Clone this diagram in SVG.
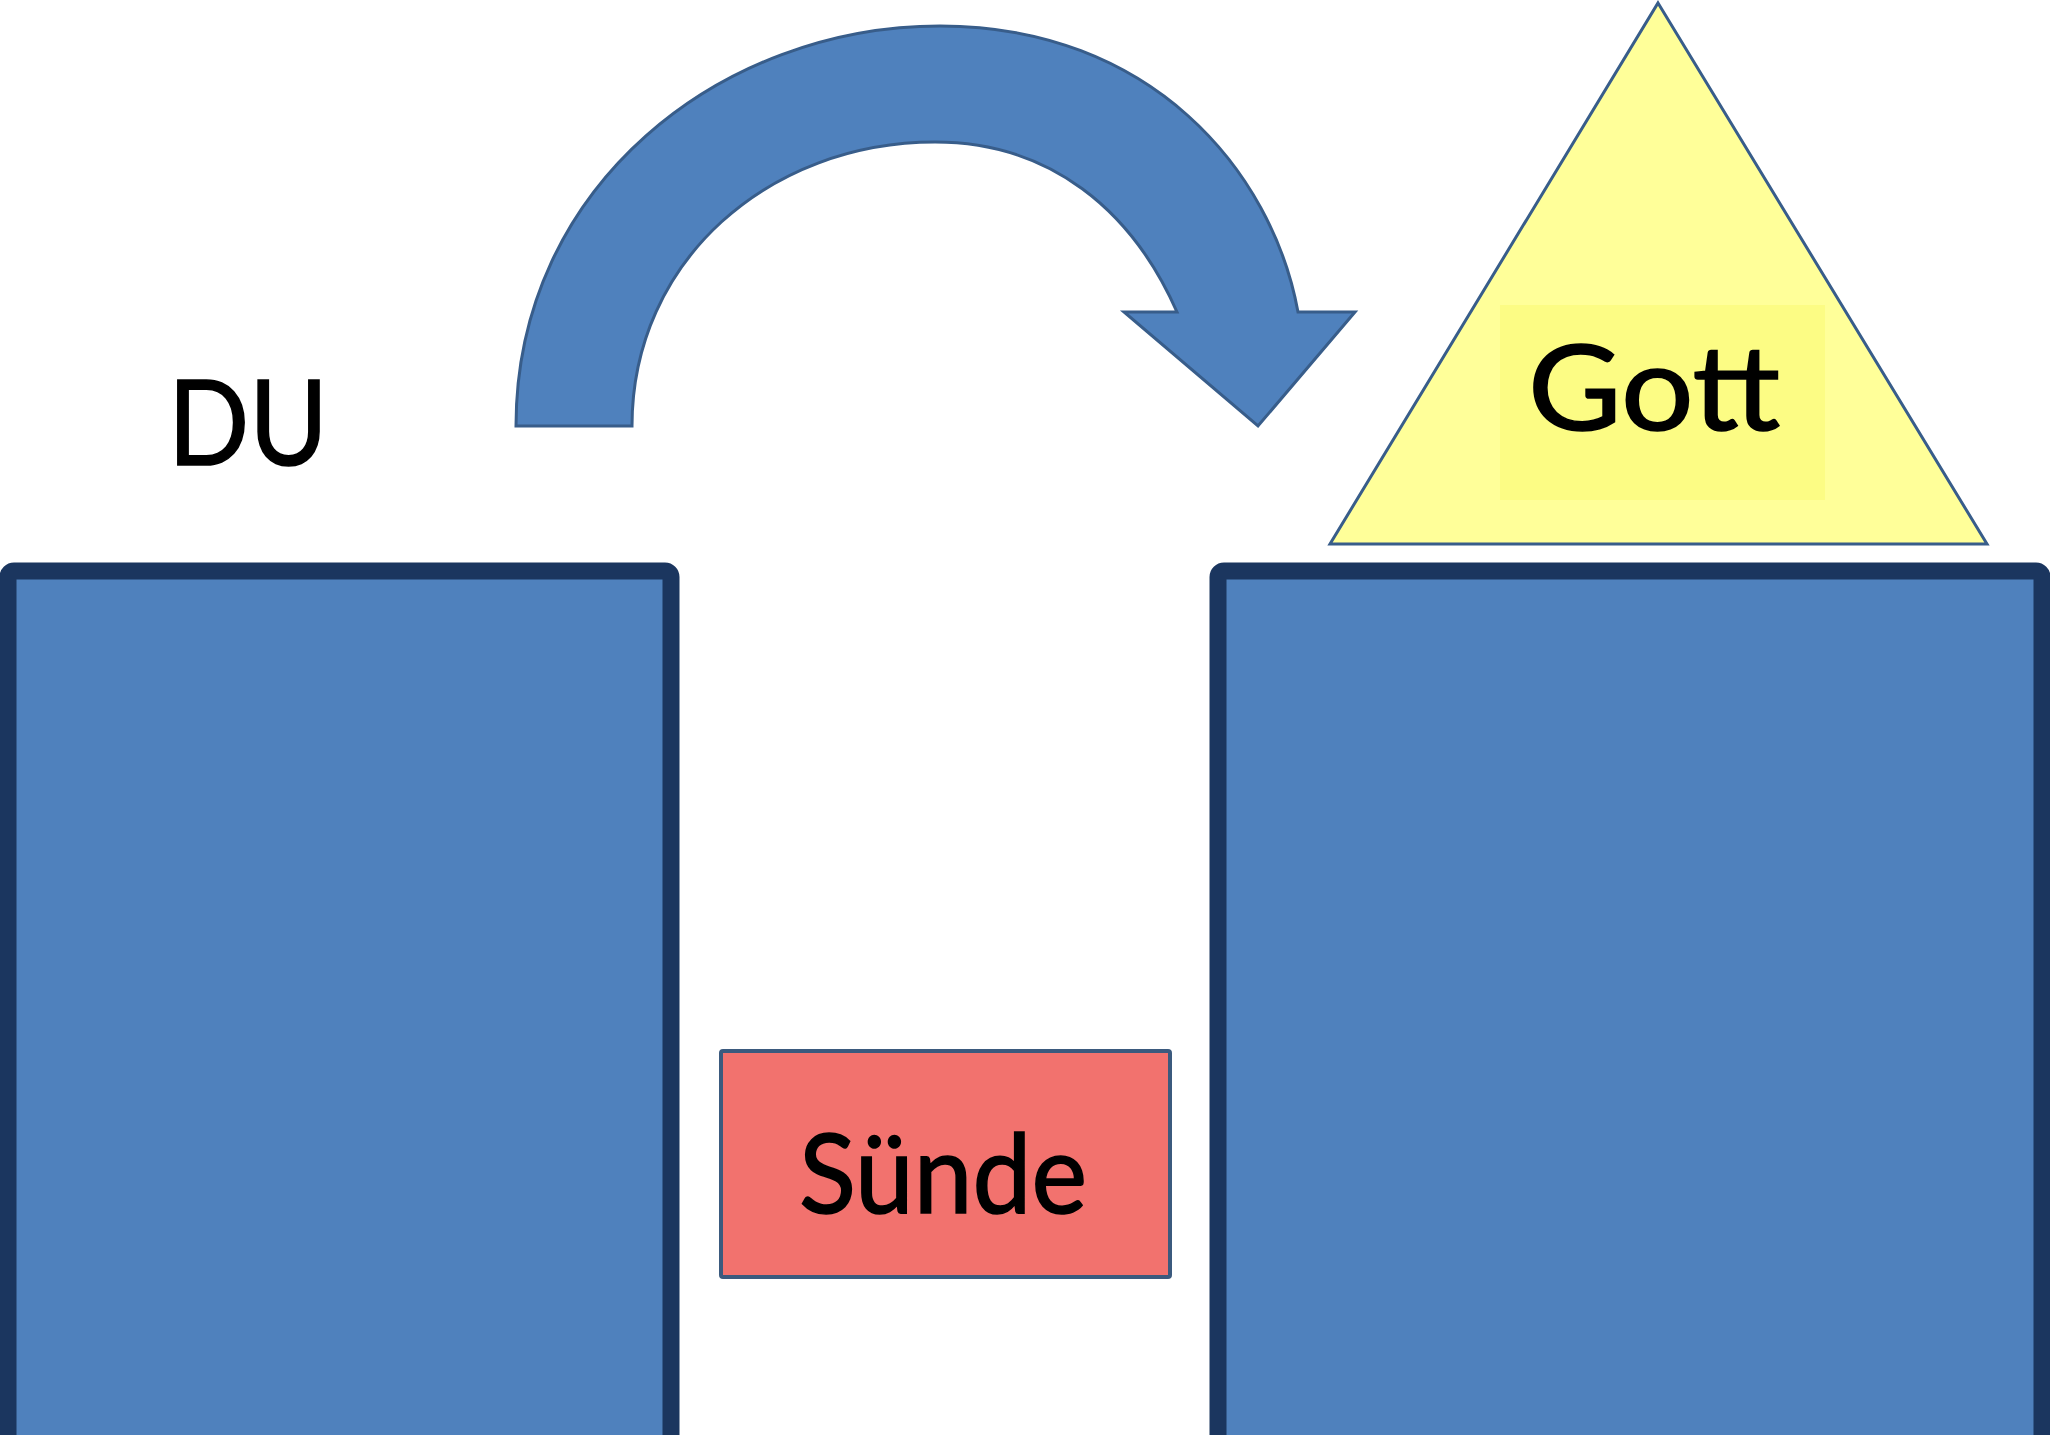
<svg xmlns="http://www.w3.org/2000/svg" width="2050" height="1435" viewBox="0 0 2050 1435">
<style>
.block{fill:#4f81bd;stroke:#1b365f;stroke-width:17}
.lbl{font-family:Lato,"Open Sans","Liberation Sans",sans-serif;font-size:118px;fill:#000;stroke:#000;stroke-width:1.6;text-anchor:middle}
.small{font-size:110px}
</style>
<rect width="2050" height="1435" fill="#ffffff"/>
<g id="connectors">
<path id="arrow" d="M516,426 C516,185 722,26 940,26 C1150,26 1272,170 1298,312 L1355,312 L1258,426 L1124,312 L1177,312 C1132,210 1050,142 935,142 C770,142 632,260 632,426 Z" fill="#4f81bd" stroke="#385d8a" stroke-width="3" stroke-linejoin="miter"/>
</g>
<g id="du-block">
<rect class="block" x="8" y="571" width="663" height="880" rx="6"/>
</g>
<g id="gott-block">
<rect class="block" x="1218" y="571" width="824" height="880" rx="6"/>
</g>
<g id="du">
<text class="lbl" x="248" y="465" textLength="160" lengthAdjust="spacingAndGlyphs">DU</text>
</g>
<g id="gott">
<polygon points="1658,3 1987,544 1330,544" fill="#ffff99" stroke="#385d8a" stroke-width="3"/>
<rect x="1500" y="305" width="325" height="195" fill="#fcfc84"/>
<text class="lbl" x="1654" y="430" textLength="252" lengthAdjust="spacingAndGlyphs">Gott</text>
</g>
<g id="suende">
<rect x="721" y="1051" width="449" height="226" fill="#f2726e" stroke="#3b5a7e" stroke-width="4" rx="2"/>
<text class="lbl small" x="943" y="1213" textLength="288" lengthAdjust="spacingAndGlyphs">Sünde</text>
</g>
</svg>
